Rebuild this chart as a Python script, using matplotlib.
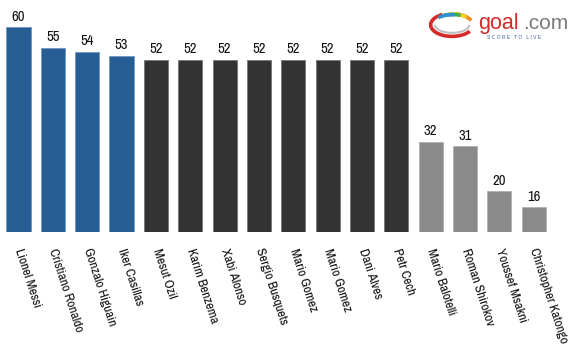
import matplotlib
matplotlib.use("Agg")
import matplotlib.pyplot as plt
from matplotlib.patches import Arc

players = ["Lionel Messi", "Cristiano Ronaldo", "Gonzalo Higuain", "Iker Casillas",
           "Mesut Ozil", "Karim Benzema", "Xabi Alonso", "Sergio Busquets",
           "Mario Gomez", "Mario Gomez", "Dani Alves", "Petr Cech",
           "Mario Balotelli", "Roman Shirokov", "Youssef Msakni", "Christopher Katongo"]
votes = [60, 55, 54, 53, 52, 52, 52, 52, 52, 52, 52, 52, 32, 31, 20, 16]
groups = ["blue"] * 4 + ["dark"] * 8 + ["grey"] * 4
palette = {"blue": "#275f95", "dark": "#333333", "grey": "#8a8a8a"}
edge = {"blue": "#6f97c2", "dark": "#777777", "grey": "#b0b0b0"}

fig = plt.figure(figsize=(5.7, 3.55), dpi=100)
fig.patch.set_facecolor("white")
ax = fig.add_axes([0.0023, 0.3465, 0.964, 0.60])

x = list(range(len(votes)))
ax.bar(x, votes, width=0.70, color=[palette[g] for g in groups],
       edgecolor=[edge[g] for g in groups], linewidth=0.6)
ax.set_xlim(-0.5, len(votes) - 0.5)
ax.set_ylim(10, 62)

lab_font = ["Liberation Sans Narrow", "Arial Narrow", "Archivo Narrow", "DejaVu Sans"]
for xi, v in zip(x, votes):
    ax.annotate(str(v), (xi, v), xytext=(0, 2.5), textcoords="offset points",
                ha="center", va="bottom", fontsize=10.5, family=lab_font,
                fontweight=500, color="#111111")

ax.set_xticks(x)
ax.set_xticklabels(players, rotation=-72, ha="left", va="center",
                   rotation_mode="anchor", fontsize=9.5, family=lab_font,
                   fontweight=500, color="#111111")
ax.tick_params(axis="x", length=0, pad=12)
ax.set_yticks([])
for s in ax.spines.values():
    s.set_visible(False)

# goal.com logo
logo_font = ["Liberation Sans", "DejaVu Sans"]
fig.text(0.838, 0.918, "goal", color="#d42a2a", fontsize=15.5,
         family=logo_font, ha="left", va="baseline")
fig.text(0.918, 0.918, ".com", color="#7a7a7a", fontsize=15,
         family=logo_font, ha="left", va="baseline")
fig.text(0.854, 0.893, "S C O R E   T O   L I V E", color="#3a5f9a", fontsize=3.6,
         family=logo_font, ha="left", va="center")
cx, cy = 0.793, 0.93
cols = [("#d42a2a", 120, 330), ("#f08a1c", 20, 80), ("#f2d21b", 40, 100),
        ("#3fae49", 60, 120), ("#2f8fd0", 80, 140)]
for i, (c, t1, t2) in enumerate(cols):
    a = Arc((cx, cy), 0.075 - i * 0.002, 0.065 - i * 0.002, theta1=t1, theta2=t2,
            transform=fig.transFigure, color=c, lw=2.6)
    fig.add_artist(a)
a = Arc((cx, cy), 0.06, 0.045, theta1=180, theta2=360, transform=fig.transFigure,
        color="#c0c0c0", lw=1.5)
fig.add_artist(a)

fig.savefig("out.png", dpi=100, facecolor="white")
